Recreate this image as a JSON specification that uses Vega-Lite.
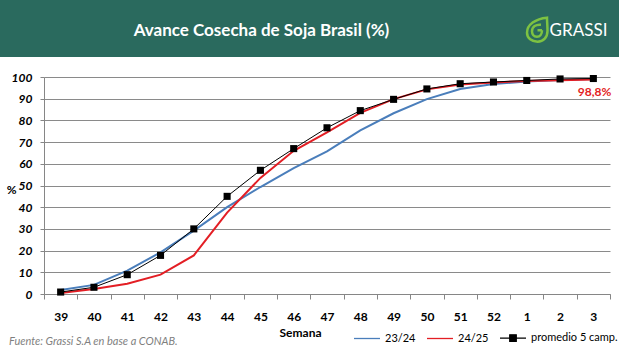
{
  "$schema": "https://vega.github.io/schema/vega-lite/v6.json",
  "padding": 0,
  "background": "white",
  "bounds": "flush",
  "spacing": 20,
  "config": {"view": {"stroke": null}, "font": "Lato"},
  "datasets": {
    "encabezado": [{"titulo": "Avance Cosecha de Soja Brasil (%)", "marca": "GRASSI"}],
    "avance": [
      {"semana": "39", "serie": "23/24", "v": 1.8},
      {"semana": "40", "serie": "23/24", "v": 4.2},
      {"semana": "41", "serie": "23/24", "v": 10.8},
      {"semana": "42", "serie": "23/24", "v": 19.2},
      {"semana": "43", "serie": "23/24", "v": 29.2},
      {"semana": "44", "serie": "23/24", "v": 40},
      {"semana": "45", "serie": "23/24", "v": 49.3},
      {"semana": "46", "serie": "23/24", "v": 58},
      {"semana": "47", "serie": "23/24", "v": 65.7},
      {"semana": "48", "serie": "23/24", "v": 75.4},
      {"semana": "49", "serie": "23/24", "v": 83.3},
      {"semana": "50", "serie": "23/24", "v": 89.8},
      {"semana": "51", "serie": "23/24", "v": 94.5},
      {"semana": "52", "serie": "23/24", "v": 96.8},
      {"semana": "1", "serie": "23/24", "v": 97.9},
      {"semana": "2", "serie": "23/24", "v": 98.6},
      {"semana": "3", "serie": "23/24", "v": 99.1},
      {"semana": "39", "serie": "24/25", "v": 0.5},
      {"semana": "40", "serie": "24/25", "v": 2.3},
      {"semana": "41", "serie": "24/25", "v": 4.7},
      {"semana": "42", "serie": "24/25", "v": 8.9},
      {"semana": "43", "serie": "24/25", "v": 17.8},
      {"semana": "44", "serie": "24/25", "v": 37.5},
      {"semana": "45", "serie": "24/25", "v": 53.5},
      {"semana": "46", "serie": "24/25", "v": 66},
      {"semana": "47", "serie": "24/25", "v": 74.5},
      {"semana": "48", "serie": "24/25", "v": 83.5},
      {"semana": "49", "serie": "24/25", "v": 89.8},
      {"semana": "50", "serie": "24/25", "v": 94.3},
      {"semana": "51", "serie": "24/25", "v": 96.5},
      {"semana": "52", "serie": "24/25", "v": 97.5},
      {"semana": "1", "serie": "24/25", "v": 98.1},
      {"semana": "2", "serie": "24/25", "v": 98.5},
      {"semana": "3", "serie": "24/25", "v": 98.8},
      {"semana": "39", "serie": "promedio 5 camp.", "v": 0.9},
      {"semana": "40", "serie": "promedio 5 camp.", "v": 3.1},
      {"semana": "41", "serie": "promedio 5 camp.", "v": 8.9},
      {"semana": "42", "serie": "promedio 5 camp.", "v": 17.8},
      {"semana": "43", "serie": "promedio 5 camp.", "v": 30},
      {"semana": "44", "serie": "promedio 5 camp.", "v": 45},
      {"semana": "45", "serie": "promedio 5 camp.", "v": 57},
      {"semana": "46", "serie": "promedio 5 camp.", "v": 67},
      {"semana": "47", "serie": "promedio 5 camp.", "v": 76.6},
      {"semana": "48", "serie": "promedio 5 camp.", "v": 84.5},
      {"semana": "49", "serie": "promedio 5 camp.", "v": 89.7},
      {"semana": "50", "serie": "promedio 5 camp.", "v": 94.5},
      {"semana": "51", "serie": "promedio 5 camp.", "v": 96.9},
      {"semana": "52", "serie": "promedio 5 camp.", "v": 97.7},
      {"semana": "1", "serie": "promedio 5 camp.", "v": 98.4},
      {"semana": "2", "serie": "promedio 5 camp.", "v": 99.1},
      {"semana": "3", "serie": "promedio 5 camp.", "v": 99.3}
    ]
  },
  "vconcat": [
    {
      "width": 619,
      "height": 57,
      "data": {"name": "encabezado"},
      "layer": [
        {"mark": {"type": "rect", "color": "#2a6a5e"}, "encoding": {}},
        {
          "mark": {"type": "text", "color": "white", "font": "Lato", "fontWeight": "bold", "fontSize": 17, "dx": -48, "dy": 2},
          "encoding": {"text": {"field": "titulo"}}
        },
        {
          "mark": {"type": "text", "color": "white", "font": "Lato", "fontSize": 17, "dx": 269, "dy": 2},
          "encoding": {"text": {"field": "marca"}}
        },
        {
          "mark": {
            "type": "point",
            "shape": "M23.75,-1.08 C22.6,-0.98 21.75,-0.38 21.75,0.42 C21.75,0.97 22.25,1.32 22.8,1.32 C23.4,1.32 23.8,0.87 23.8,0.22 C23.8,-0.28 23.75,-0.68 23.75,-1.08 Z M23.25,0.17 H22.8 M23.25,0.17 C23.25,0.57 23.05,0.82 22.75,0.82 C22.4,0.82 22.25,0.52 22.25,0.27 C22.25,-0.18 22.65,-0.43 23.15,-0.38",
            "size": 400,
            "filled": false,
            "stroke": "#7dc242",
            "strokeWidth": 2.5,
            "opacity": 1
          },
          "encoding": {}
        }
      ]
    },
    {
      "width": 619,
      "height": 217,
      "data": {"name": "avance"},
      "title": {
        "text": "Fuente: Grassi S.A en base a CONAB.",
        "orient": "bottom",
        "anchor": "start",
        "frame": "group",
        "dx": 9,
        "offset": -2,
        "font": "Lato",
        "fontSize": 11,
        "fontStyle": "italic",
        "fontWeight": "normal",
        "color": "#7f7f7f"
      },
      "encoding": {
        "x": {
          "field": "semana",
          "type": "ordinal",
          "sort": ["39", "40", "41", "42", "43", "44", "45", "46", "47", "48", "49", "50", "51", "52", "1", "2", "3"],
          "scale": {"type": "band", "range": [44, 610], "paddingInner": 0, "paddingOuter": 0},
          "axis": {
            "title": "Semana",
            "labelAngle": 0,
            "tickBand": "extent",
            "tickSize": 5,
            "tickColor": "#868686",
            "domainColor": "#868686",
            "labelFont": "Lato",
            "labelFontSize": 12,
            "labelFontWeight": "bold",
            "labelColor": "black",
            "labelPadding": 12,
            "titleFont": "Lato",
            "titleFontSize": 12,
            "titleFontWeight": "bold",
            "titleColor": "black",
            "titleX": 300,
            "titleY": 38,
            "titleBaseline": "middle",
            "grid": false
          }
        },
        "y": {
          "field": "v",
          "type": "quantitative",
          "scale": {"domain": [0, 100], "nice": false},
          "axis": {
            "values": [0, 10, 20, 30, 40, 50, 60, 70, 80, 90, 100],
            "offset": -44,
            "title": "%",
            "titleAngle": 0,
            "titleAlign": "right",
            "titleBaseline": "middle",
            "titleX": -28,
            "titleY": 112,
            "titleFont": "Lato",
            "titleFontSize": 12,
            "titleFontWeight": "bold",
            "titleColor": "black",
            "labelFont": "Lato",
            "labelFontSize": 12,
            "labelFontWeight": "bold",
            "labelFontStyle": "italic",
            "labelColor": "black",
            "labelPadding": 8,
            "tickSize": 4,
            "tickColor": "#868686",
            "domainColor": "#868686",
            "grid": true,
            "gridColor": "#8a8a8a",
            "gridWidth": 1
          }
        },
        "color": {
          "field": "serie",
          "type": "nominal",
          "scale": {"domain": ["23/24", "24/25", "promedio 5 camp."], "range": ["#4a7ebb", "#e31e24", "#000000"]},
          "legend": {
            "title": null,
            "orient": "none",
            "legendX": 353,
            "legendY": 324,
            "direction": "horizontal",
            "symbolType": "stroke",
            "symbolSize": 676,
            "symbolStrokeWidth": 1.3,
            "labelFont": "Lato",
            "labelFontSize": 11,
            "labelColor": "black",
            "columnPadding": 8,
            "labelOffset": 4,
            "padding": 0,
            "encode": {
              "symbols": {
                "update": {
                  "shape": {"signal": "datum.label === 'promedio 5 camp.' ? 'M-1,0H1M-0.25,-0.25H0.25V0.25H-0.25Z' : 'stroke'"},
                  "fill": {"signal": "datum.label === 'promedio 5 camp.' ? '#000000' : 'transparent'"}
                }
              }
            }
          }
        }
      },
      "layer": [
        {
          "transform": [{"filter": "datum.serie !== 'promedio 5 camp.'"}],
          "mark": {"type": "line", "strokeWidth": 2}
        },
        {
          "transform": [{"filter": "datum.serie === 'promedio 5 camp.'"}],
          "mark": {"type": "line", "strokeWidth": 1}
        },
        {
          "transform": [{"filter": "datum.serie === 'promedio 5 camp.'"}],
          "mark": {"type": "square", "size": 50, "opacity": 1}
        },
        {
          "data": {"values": [{"semana": "3", "v": 98.8, "etiqueta": "98,8%"}]},
          "mark": {"type": "text", "color": "#e31e24", "font": "Lato", "fontWeight": "bold", "fontSize": 12, "align": "right", "baseline": "middle", "dx": 18, "dy": 12},
          "encoding": {"text": {"field": "etiqueta"}, "color": {"value": "#e31e24"}}
        }
      ]
    }
  ]
}
